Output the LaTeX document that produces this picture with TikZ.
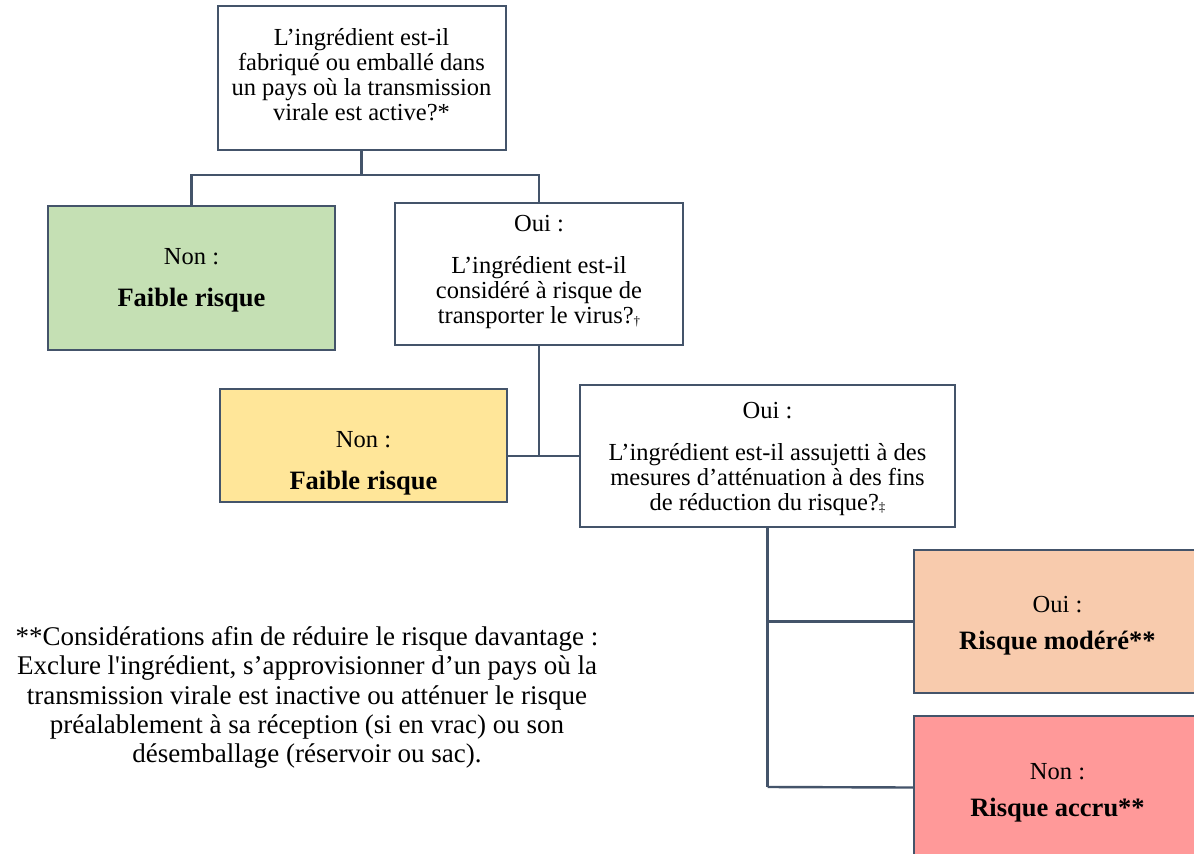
\documentclass[tikz,border=0pt]{standalone}
\usepackage{fontspec}
\setmainfont{Liberation Serif}
\definecolor{edge}{HTML}{44546A}
\definecolor{fgreen}{HTML}{C5E0B4}
\definecolor{fyellow}{HTML}{FFE699}
\definecolor{forange}{HTML}{F8CBAD}
\definecolor{fred}{HTML}{FF9999}
\newcommand{\mydag}{\raisebox{-1.5pt}{\fontsize{13}{13}\selectfont †}}
\newcommand{\myddag}{\raisebox{-1.5pt}{\fontsize{13}{13}\selectfont ‡}}
\newcommand{\bigb}[1]{{\fontsize{26.5}{25}\selectfont\bfseries #1}}
\begin{document}
\begin{tikzpicture}[x=1pt,y=-1pt,
  box/.style={draw=edge,line width=2pt,fill=white,inner sep=0pt,minimum width=#1},
  box/.default=288pt,
  txt/.style={align=center,inner sep=0pt,font=\fontsize{24.5}{25}\selectfont},
  link/.style={draw=edge,line width=2.4pt}]
\clip (0,0) rectangle (1194,854);
\fill[white] (0,0) rectangle (1194,854);
\node[box,minimum height=144pt] (q1) at (361.5,78) {};
\node[txt] (q1t) at (361.5,74.5) {L’ingrédient est-il\\fabriqué ou emballé dans\\un pays où la transmission\\virale est active?*};
\node[box,fill=fgreen,minimum width=287pt,minimum height=144pt] (n1) at (191.5,278) {};
\node[txt] (n1t) at (191.5,280) {Non :\\[17pt]\bigb{Faible risque}};
\node[box,minimum height=142pt] (q2) at (539,274) {};
\node[txt] (q2t) at (539,272) {Oui :\\[17pt]L’ingrédient est-il\\considéré à risque de\\transporter le virus?\mydag};
\node[box,fill=fyellow,minimum width=287pt,minimum height=113pt] (n2) at (363.5,445.5) {};
\node[txt] (n2t) at (363.5,463) {Non :\\[17pt]\bigb{Faible risque}};
\node[box,minimum width=375pt,minimum height=142pt] (q3) at (767.5,456) {};
\node[txt] (q3t) at (767.5,458.5) {Oui :\\[17pt]L’ingrédient est-il assujetti à des\\mesures d’atténuation à des fins\\de réduction du risque?\myddag};
\node[box,fill=forange,minimum width=287pt,minimum height=143pt] (o3) at (1057.5,621.5) {};
\node[txt] (o3t) at (1057.5,625.5) {Oui :\\[12pt]\bigb{Risque modéré**}};
\node[box,fill=fred,minimum width=287pt,minimum height=143pt] (r3) at (1057.5,787.5) {};
\node[txt] (r3t) at (1057.5,793) {Non :\\[12pt]\bigb{Risque accru**}};
\coordinate (j1) at (361.5,175);
\coordinate (j2) at (539,456);
\coordinate (j3) at (767.5,787);
\draw[link] (q1.south) -- (j1);
\draw[link] (j1) -| (n1.north);
\draw[link] (j1) -| (q2.north);
\draw[link] (q2.south) -- (j2);
\draw[link] (j2) -- (n2.east |- j2);
\draw[link] (j2) -- (q3.west);
\draw[link] (q3.south) -- (j3);
\draw[link] (q3.south |- o3.west) -- (o3.west);
\draw[link] (j3) -- (r3.west);
\node[align=center,font=\fontsize{27}{29.2}\selectfont,inner sep=0pt] (note) at (307,697.5) {**Considérations afin de réduire le risque davantage :\\Exclure l\textquotesingle ingrédient, s’approvisionner d’un pays où la\\transmission virale est inactive ou atténuer le risque\\préalablement à sa réception (si en vrac) ou son\\désemballage (réservoir ou sac).};
\end{tikzpicture}
\end{document}
